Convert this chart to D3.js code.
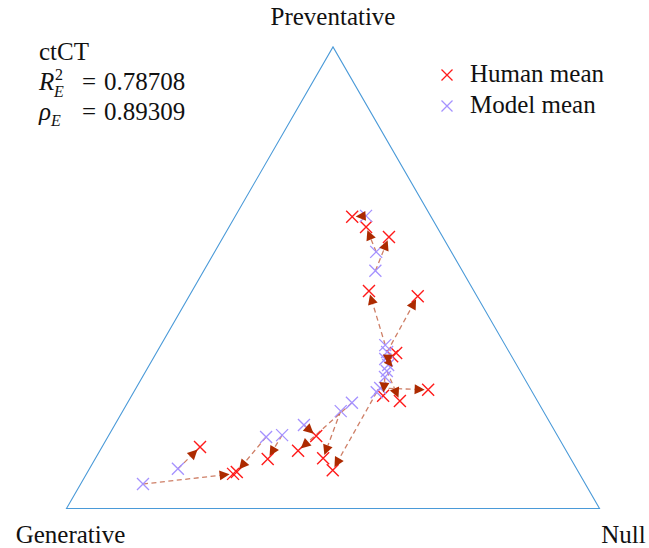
<!DOCTYPE html>
<html>
<head>
<meta charset="utf-8">
<script src="https://cdn.jsdelivr.net/npm/d3@7"></script>
<style>
  html, body { margin: 0; padding: 0; background: #fff; }
  svg text { font-family: "Liberation Serif", "DejaVu Serif", serif; fill: #111; }
</style>
</head>
<body>
<svg id="chart" width="649" height="548"></svg>
<script>
// ---- data (ternary proportions: generative, preventative, null) ----
const vertexLabels = ["Generative", "Preventative", "Null"];
const seriesNames = ["Human mean", "Model mean"];
const datasetName = "ctCT";
const r2Value = "0.78708";
const rhoValue = "0.89309";

const humanGenerative   = [0.148, 0.133, 0.101, 0.197, 0.111, 0.213, 0.224, 0.258, 0.193, 0.284, 0.459, 0.503, 0.464, 0.453, 0.569, 0.641, 0.650, 0.683];
const humanPreventative = [0.632, 0.610, 0.588, 0.471, 0.460, 0.337, 0.330, 0.233, 0.257, 0.244, 0.083, 0.125, 0.109, 0.157, 0.107, 0.079, 0.075, 0.133];
const humanNull         = [0.220, 0.257, 0.311, 0.332, 0.429, 0.450, 0.446, 0.509, 0.550, 0.472, 0.458, 0.372, 0.427, 0.390, 0.324, 0.280, 0.275, 0.184];

const modelGenerative   = [0.121, 0.141, 0.163, 0.225, 0.229, 0.240, 0.241, 0.250, 0.281, 0.260, 0.292, 0.350, 0.380, 0.464, 0.516, 0.548, 0.830, 0.748];
const modelPreventative = [0.634, 0.556, 0.515, 0.354, 0.339, 0.324, 0.311, 0.298, 0.261, 0.285, 0.252, 0.229, 0.211, 0.181, 0.159, 0.155, 0.053, 0.086];
const modelNull         = [0.245, 0.303, 0.322, 0.421, 0.432, 0.436, 0.448, 0.452, 0.458, 0.455, 0.456, 0.421, 0.409, 0.355, 0.325, 0.297, 0.117, 0.166];

// ---- scales ----
const svg = d3.select("#chart");
const xScale = d3.scaleLinear().domain([0, 1]).range([66.5, 599.5]);
const yScale = d3.scaleLinear().domain([0, 1]).range([508.5, 46.9]);
function project(g, p, n) {
  const s = g + p + n;
  p /= s; n /= s;
  return [xScale(n + p / 2), yScale(p)];
}

const human = humanGenerative.map((g, i) => project(g, humanPreventative[i], humanNull[i]));
const model = modelGenerative.map((g, i) => project(g, modelPreventative[i], modelNull[i]));

const triColor = "#4a9ad8";
const humanColor = "#ff1a1a";
const modelColor = "#a592ff";
const arrowColor = "#ad2a00";

// ---- triangle ----
const corners = [project(1, 0, 0), project(0, 1, 0), project(0, 0, 1)];
svg.append("path")
  .attr("d", d3.line()(corners) + "Z")
  .attr("fill", "none")
  .attr("stroke", triColor)
  .attr("stroke-width", 1.1);

// vertex labels
svg.append("text").attr("x", corners[1][0]).attr("y", 25).attr("text-anchor", "middle")
  .attr("font-size", 25).text(vertexLabels[1]);
svg.append("text").attr("x", corners[0][0] + 4).attr("y", 543).attr("text-anchor", "middle")
  .attr("font-size", 25).text(vertexLabels[0]);
svg.append("text").attr("x", corners[2][0] + 24).attr("y", 543).attr("text-anchor", "middle")
  .attr("font-size", 25).text(vertexLabels[2]);

// ---- X marker helper ----
function xMarker(sel, cx, cy, r, color, w) {
  sel.append("path")
    .attr("d", `M${cx - r},${cy - r}L${cx + r},${cy + r}M${cx - r},${cy + r}L${cx + r},${cy - r}`)
    .attr("stroke", color).attr("stroke-width", w).attr("fill", "none");
}

// ---- arrows (model -> human) ----
const gLines = svg.append("g");
const gMarks = svg.append("g");
const gHeads = svg.append("g");

const tipGap = 3.5, headLen = 10, headHalf = 5;
human.forEach((h, i) => {
  const m = model[i];
  const dx = h[0] - m[0], dy = h[1] - m[1];
  const L = Math.hypot(dx, dy);
  const ux = dx / L, uy = dy / L;
  const tip = [h[0] - ux * tipGap, h[1] - uy * tipGap];
  const hl = Math.min(headLen, Math.max(L - tipGap, 4));
  const base = [tip[0] - ux * hl, tip[1] - uy * hl];
  gLines.append("line")
    .attr("x1", m[0]).attr("y1", m[1]).attr("x2", base[0]).attr("y2", base[1])
    .attr("stroke", arrowColor).attr("stroke-opacity", 0.6)
    .attr("stroke-width", 1.3).attr("stroke-dasharray", "5,3.5");
  const px = -uy, py = ux;
  gHeads.append("path")
    .attr("d", d3.line()([tip, [base[0] + px * headHalf, base[1] + py * headHalf], [base[0] - px * headHalf, base[1] - py * headHalf]]) + "Z")
    .attr("fill", arrowColor).attr("stroke", "none");
});

// ---- markers ----
human.forEach(h => xMarker(gMarks, h[0], h[1], 6, humanColor, 1.4));
model.forEach(m => xMarker(gMarks, m[0], m[1], 6, modelColor, 1.3));

// ---- stats text ----
const st = svg.append("g");
st.append("text").attr("x", 39).attr("y", 60).attr("font-size", 25).text(datasetName);
st.append("text").attr("x", 39).attr("y", 90).attr("font-size", 25).attr("font-style", "italic").text("R");
st.append("text").attr("x", 55).attr("y", 80).attr("font-size", 16).text("2");
st.append("text").attr("x", 54).attr("y", 97).attr("font-size", 16).attr("font-style", "italic").text("E");
st.append("text").attr("x", 82).attr("y", 90).attr("font-size", 25).text("=");
st.append("text").attr("x", 104).attr("y", 90).attr("font-size", 25).text(r2Value);
st.append("text").attr("x", 39).attr("y", 120).attr("font-size", 25).attr("font-style", "italic").text("ρ");
st.append("text").attr("x", 51).attr("y", 126).attr("font-size", 16).attr("font-style", "italic").text("E");
st.append("text").attr("x", 82).attr("y", 120).attr("font-size", 25).text("=");
st.append("text").attr("x", 104).attr("y", 120).attr("font-size", 25).text(rhoValue);

// ---- legend ----
const lg = svg.append("g");
xMarker(lg, 447, 75, 5.5, humanColor, 1.3);
xMarker(lg, 447, 106, 5.5, modelColor, 1.3);
lg.append("text").attr("x", 470).attr("y", 82).attr("font-size", 25).text(seriesNames[0]);
lg.append("text").attr("x", 470).attr("y", 113).attr("font-size", 25).text(seriesNames[1]);
</script>
</body>
</html>
